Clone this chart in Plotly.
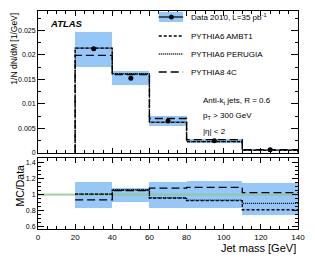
import plotly.graph_objects as go

# ---- data ----
bin_edges = [20, 40, 60, 80, 110, 140]
data_vals = [0.02125, 0.01525, 0.0065, 0.00246, 0.0006]
err_up_rel = [0.16, 0.09, 0.16, 0.17, 0.15]
err_dn_rel = [0.17, 0.095, 0.17, 0.16, 0.25]
ambt1_vals = [0.0214, 0.0161, 0.0062, 0.00228, 0.00049]
perugia_vals = [0.0214, 0.0162, 0.00625, 0.00229, 0.00053]
py8_4c_vals = [0.0199, 0.0160, 0.0070, 0.00268, 0.000615]
ambt1_ratio = [1.005, 1.055, 0.955, 0.925, 0.81]
perugia_ratio = [1.005, 1.06, 0.96, 0.93, 0.89]
py8_4c_ratio = [0.934, 1.05, 1.08, 1.09, 1.025]

FONT = "Liberation Sans, Arial, Helvetica, sans-serif"
BAND = "#95c7f8"

centers = [(a + b) / 2 for a, b in zip(bin_edges[:-1], bin_edges[1:])]
widths = [b - a for a, b in zip(bin_edges[:-1], bin_edges[1:])]

fig = go.Figure()

# main panel band
lo = [v * (1 - d) for v, d in zip(data_vals, err_dn_rel)]
hi = [v * (1 + u) for v, u in zip(data_vals, err_up_rel)]
fig.add_trace(go.Bar(x=centers, width=widths, base=lo, y=[h - l for h, l in zip(hi, lo)],
                     marker=dict(color=BAND, line=dict(width=0)), xaxis="x2", yaxis="y2",
                     showlegend=False, hoverinfo="skip"))

def main_step(vals, dash):
    xs = [bin_edges[0]] + bin_edges + [bin_edges[-1]]
    ys = [0] + vals + [vals[-1], 0]
    return go.Scatter(x=xs, y=ys, mode="lines", line=dict(shape="hv", color="black", width=1.3, dash=dash),
                      xaxis="x2", yaxis="y2", showlegend=False, hoverinfo="skip")

fig.add_trace(main_step(ambt1_vals, "3px,2px"))
fig.add_trace(main_step(perugia_vals, "1px,1px"))
fig.add_trace(main_step(py8_4c_vals, "8px,4px"))
fig.add_trace(go.Scatter(x=centers, y=data_vals, mode="markers", marker=dict(color="black", size=5),
                         xaxis="x2", yaxis="y2", showlegend=False))

# ratio panel band
rlo = [1 - d for d in err_dn_rel]
rhi = [1 + u for u in err_up_rel]
fig.add_trace(go.Bar(x=centers, width=widths, base=rlo, y=[h - l for h, l in zip(rhi, rlo)],
                     marker=dict(color=BAND, line=dict(width=0)), xaxis="x", yaxis="y",
                     showlegend=False, hoverinfo="skip"))
fig.add_trace(go.Scatter(x=[0, 140], y=[1, 1], mode="lines", line=dict(color="rgba(140,200,140,0.75)", width=2.2),
                         xaxis="x", yaxis="y", showlegend=False, hoverinfo="skip"))

def ratio_step(vals, dash):
    xs = bin_edges
    ys = vals + [vals[-1]]
    return go.Scatter(x=xs, y=ys, mode="lines", line=dict(shape="hv", color="black", width=1.3, dash=dash),
                      xaxis="x", yaxis="y", showlegend=False, hoverinfo="skip")

fig.add_trace(ratio_step(ambt1_ratio, "3px,2px"))
fig.add_trace(ratio_step(perugia_ratio, "1px,1px"))
fig.add_trace(ratio_step(py8_4c_ratio, "8px,4px"))

axis_common = dict(showline=True, linecolor="black", linewidth=1, mirror="allticks", ticks="inside",
                   showgrid=False, zeroline=False, tickfont=dict(family=FONT, size=8, color="black"),
                   tickcolor="black")

fig.update_layout(
    width=315, height=259, margin=dict(l=38, r=10, t=11, b=30),
    paper_bgcolor="white", plot_bgcolor="white", barmode="overlay", bargap=0,
    font=dict(family=FONT, color="black"),
    xaxis=dict(**axis_common, range=[0, 140], dtick=20, tick0=0, ticklen=5,
               minor=dict(ticks="inside", dtick=5, ticklen=3, tickcolor="black"), anchor="y"),
    yaxis=dict(**axis_common, domain=[0, 0.327], range=[0.57, 1.46], dtick=0.2, tick0=0.6, ticklen=6,
               minor=dict(ticks="inside", dtick=0.05, ticklen=3, tickcolor="black"), anchor="x"),
    xaxis2=dict(**axis_common, range=[0, 140], dtick=20, tick0=0, ticklen=5, showticklabels=False,
                minor=dict(ticks="inside", dtick=5, ticklen=3, tickcolor="black"), anchor="y2"),
    yaxis2=dict(**axis_common, domain=[0.35, 1], range=[0, 0.029], dtick=0.005, tick0=0, ticklen=7,
                minor=dict(ticks="inside", dtick=0.0025, ticklen=3, tickcolor="black"), anchor="x2"),
)
fig.update_yaxes(tickfont=dict(size=7))

def px2x(px):
    return (px - 38) / 267

def py2y(py):
    return (229 - py) / 218

anns = []
anns.append(dict(text="<b><i>ATLAS</i></b>", x=px2x(48), y=py2y(23), xanchor="left", yanchor="middle",
                 font=dict(size=9.5)))
# legend
rows = [("Data 2010, L=35 pb<sup>-1</sup>", None, 17),
        ("PYTHIA6 AMBT1", "3px,2px", 36),
        ("PYTHIA6 PERUGIA", "1px,1px", 54),
        ("PYTHIA8 4C", "8px,4px", 72)]
shapes = []
for txt, dash, py in rows:
    anns.append(dict(text=txt, x=px2x(193), y=py2y(py), xanchor="left", yanchor="middle", font=dict(size=8)))
    if dash is None:
        shapes.append(dict(type="rect", xref="paper", yref="paper", x0=px2x(162), x1=px2x(187),
                           y0=py2y(py + 5), y1=py2y(py - 5), fillcolor=BAND, line=dict(width=0), layer="above"))
        shapes.append(dict(type="line", xref="paper", yref="paper", x0=px2x(162), x1=px2x(187),
                           y0=py2y(py), y1=py2y(py), line=dict(color="black", width=1.2)))
        shapes.append(dict(type="circle", xref="paper", yref="paper", x0=px2x(172.5), x1=px2x(177.5),
                           y0=py2y(py + 2.5), y1=py2y(py - 2.5), fillcolor="black", line=dict(width=0)))
    else:
        shapes.append(dict(type="line", xref="paper", yref="paper", x0=px2x(162), x1=px2x(187),
                           y0=py2y(py), y1=py2y(py), line=dict(color="black", width=1.3, dash=dash)))
for txt, py in [("Anti-k<sub>t</sub> jets, R = 0.6", 101), ("p<sub>T</sub> &gt; 300 GeV", 116),
                ("|η| &lt; 2", 131)]:
    anns.append(dict(text=txt, x=px2x(205), y=py2y(py), xanchor="left", yanchor="middle", font=dict(size=8)))

anns.append(dict(text="1/N dN/dM [1/GeV]", x=px2x(13), y=py2y(11), xanchor="center", yanchor="top",
                 textangle=-90, font=dict(size=8.5)))
anns.append(dict(text="MC/Data", x=px2x(20), y=py2y(162), xanchor="center", yanchor="top",
                 textangle=-90, font=dict(size=10.5)))
anns.append(dict(text="Jet mass [GeV]", x=1.0, y=py2y(247.5), xanchor="right", yanchor="middle",
                 font=dict(size=11)))
for a in anns:
    a.update(xref="paper", yref="paper", showarrow=False)
fig.update_layout(annotations=anns, shapes=shapes)

fig.write_html("out.html", config={"displayModeBar": False},
               post_script="document.body.style.margin='0';document.body.style.overflow='hidden';")
